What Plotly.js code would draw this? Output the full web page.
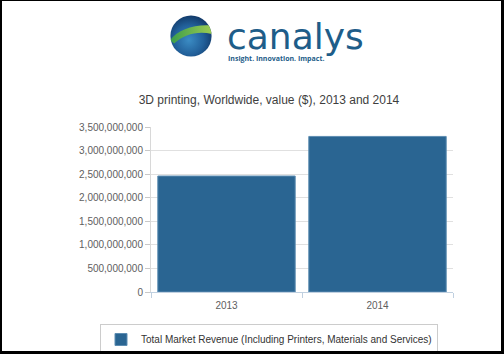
<!DOCTYPE html>
<html>
<head>
<meta charset="utf-8">
<script src="https://cdn.plot.ly/plotly-3.0.1.min.js"></script>
<style>
html,body{margin:0;padding:0;background:#000;width:504px;height:354px;overflow:hidden;}
#chart{position:absolute;left:2px;top:1px;width:499px;height:350px;background:#fff;}
</style>
</head>
<body>
<div id="chart"></div>
<script>
// ---- data ----
const categories = ['2013', '2014'];
const revenue = [2460000000, 3300000000];
const seriesName = 'Total Market Revenue (Including Printers, Materials and Services)';
const chartTitle = '3D printing, Worldwide, value ($), 2013 and 2014';
const yTickVals = [0, 500000000, 1000000000, 1500000000, 2000000000, 2500000000, 3000000000, 3500000000];
const yTickText = ['0', '500,000,000', '1,000,000,000', '1,500,000,000', '2,000,000,000', '2,500,000,000', '3,000,000,000', '3,500,000,000'];
const logoText = 'canalys';
const logoTagline = 'Insight. Innovation. Impact.';

// ---- layout helpers (div pixel -> paper) ----
const W = 499, H = 350;
const M = {l: 149, r: 48, t: 126, b: 59};
const PW = W - M.l - M.r, PH = H - M.t - M.b;
const px = x => (x - M.l) / PW;
const py = y => (H - M.b - y) / PH;

const globeSvg = '<svg xmlns="http://www.w3.org/2000/svg" width="100" height="100" viewBox="0 0 100 100">' +
  '<defs><radialGradient id="g" cx="45%" cy="60%" r="60%">' +
  '<stop offset="0" stop-color="#3b8cc4"/><stop offset="0.6" stop-color="#22609a"/><stop offset="1" stop-color="#123a6a"/></radialGradient>' +
  '<linearGradient id="s" x1="0" y1="0" x2="1" y2="0"><stop offset="0" stop-color="#3a9c4a"/><stop offset="1" stop-color="#9ccc52"/></linearGradient>' +
  '<clipPath id="c"><circle cx="50" cy="50" r="49"/></clipPath></defs>' +
  '<circle cx="50" cy="50" r="49" fill="url(#g)"/>' +
  '<path clip-path="url(#c)" d="M0,60 C20,35 55,22 100,25 L100,45 C65,38 35,45 10,68 Z" fill="url(#s)"/>' +
  '</svg>';

const trace = {
  type: 'bar',
  x: categories,
  y: revenue,
  name: seriesName,
  showlegend: true,
  marker: {color: '#2a6592', line: {color: '#5d8db2', width: 1}},
  hoverinfo: 'x+y'
};

const layout = {
  width: W, height: H,
  margin: {l: M.l, r: M.r, t: M.t, b: M.b, pad: 0, autoexpand: false},
  paper_bgcolor: '#ffffff',
  plot_bgcolor: '#ffffff',
  font: {family: 'Liberation Sans, Arial, sans-serif', size: 10, color: '#606060'},
  title: {
    text: chartTitle,
    font: {family: 'Liberation Sans, Arial, sans-serif', size: 12, color: '#3e3e3e'},
    x: (269 - 2) / W, xanchor: 'center', xref: 'container',
    y: 1 - 99 / H, yanchor: 'middle', yref: 'container'
  },
  bargap: 0.09,
  xaxis: {
    type: 'category',
    showline: true, linecolor: '#c0d0e0', linewidth: 1,
    ticks: 'outside', tickson: 'boundaries', ticklen: 5, tickcolor: '#c0d0e0',
    ticklabelstandoff: 4,
    showgrid: false,
    tickfont: {size: 10, color: '#606060'},
    automargin: false,
    fixedrange: true
  },
  yaxis: {
    range: [0, 3500000000],
    tickvals: yTickVals, ticktext: yTickText,
    showline: true, linecolor: '#d8d8d8', linewidth: 1,
    ticks: 'outside', ticklen: 5, tickcolor: '#c8c8c8',
    showgrid: true, gridcolor: '#e0e0e0', gridwidth: 1,
    zeroline: false,
    tickfont: {size: 10, color: '#606060'},
    automargin: false,
    fixedrange: true
  },
  showlegend: true,
  legend: {
    orientation: 'h',
    x: px(269 - 2), xanchor: 'center', xref: 'paper',
    y: py(324 - 1), yanchor: 'top',
    bgcolor: '#ffffff', bordercolor: '#cccccc', borderwidth: 1,
    font: {size: 10, color: '#333333'},
    itemwidth: 30
  },
  images: [{
    source: 'data:image/svg+xml;charset=utf-8,' + encodeURIComponent(globeSvg),
    xref: 'paper', yref: 'paper',
    x: px(170 - 2), y: py(15 - 1),
    sizex: 42 / PW, sizey: 42 / PH,
    xanchor: 'left', yanchor: 'top', sizing: 'stretch', layer: 'above'
  }],
  annotations: [
    {
      text: logoText, showarrow: false, xref: 'paper', yref: 'paper',
      x: px(225 - 2), xanchor: 'left', y: py(36 - 1), yanchor: 'middle',
      font: {family: 'DejaVu Sans, sans-serif', size: 36, color: '#1e5d89'}
    },
    {
      text: '<b>' + logoTagline + '</b>', showarrow: false, xref: 'paper', yref: 'paper',
      x: px(276 - 2), xanchor: 'center', y: py(58 - 1), yanchor: 'middle',
      font: {family: 'Open Sans, sans-serif', size: 7, color: '#1e5d89'}
    }
  ]
};

Plotly.newPlot('chart', [trace], layout, {displayModeBar: false, staticPlot: true});
</script>
</body>
</html>
